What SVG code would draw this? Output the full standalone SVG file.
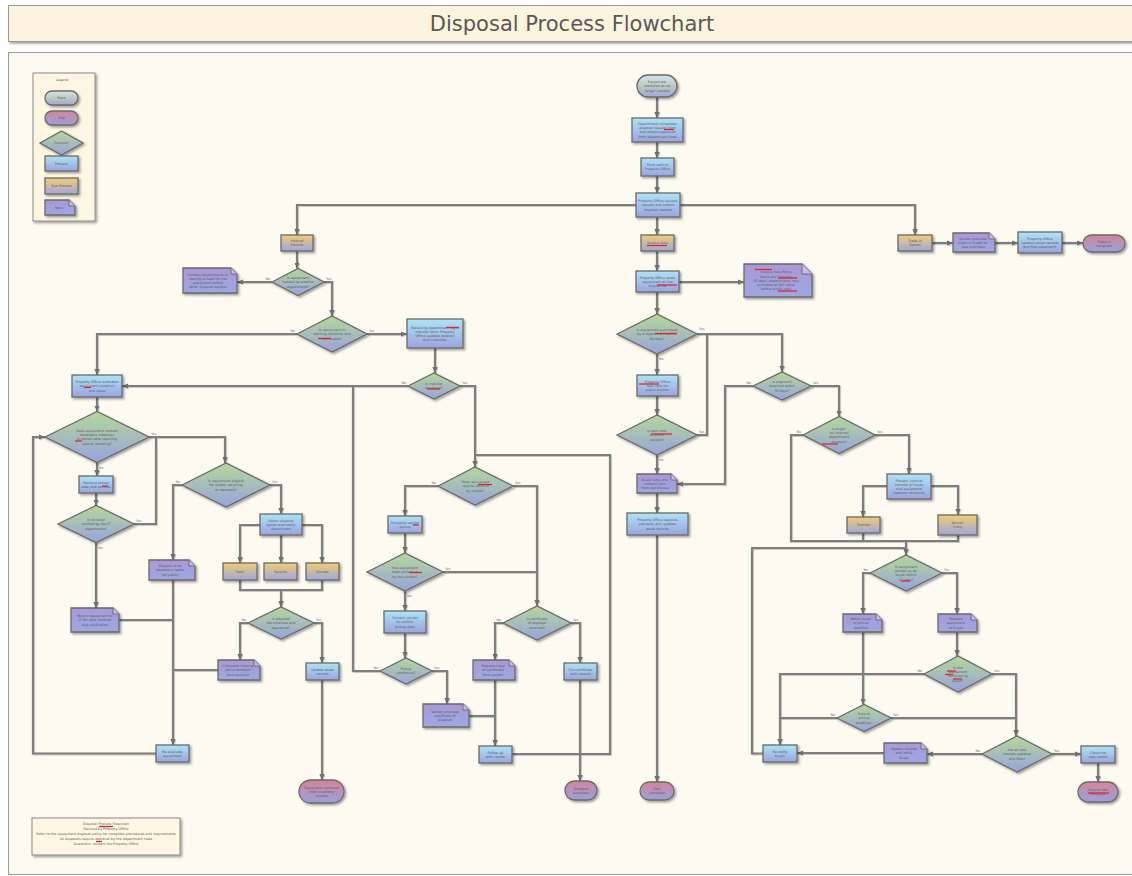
<svg xmlns="http://www.w3.org/2000/svg" width="1132" height="876" viewBox="0 0 1132 876">
  <defs>
    <linearGradient id="gStart" x1="0" y1="0" x2="0" y2="1">
      <stop offset="0" stop-color="#d6e5ef"/>
      <stop offset="0.5" stop-color="#bccabd"/>
      <stop offset="1" stop-color="#a0a7dc"/>
    </linearGradient>
    <linearGradient id="gEnd" x1="0" y1="0" x2="0" y2="1">
      <stop offset="0" stop-color="#d6849a"/>
      <stop offset="1" stop-color="#98a2dc"/>
    </linearGradient>
    <linearGradient id="gDec" x1="0" y1="0" x2="0" y2="1">
      <stop offset="0" stop-color="#b4d898"/>
      <stop offset="1" stop-color="#98a3de"/>
    </linearGradient>
    <linearGradient id="gProc" x1="0" y1="0" x2="0" y2="1">
      <stop offset="0" stop-color="#ade3f4"/>
      <stop offset="1" stop-color="#9aa4e0"/>
    </linearGradient>
    <linearGradient id="gSub" x1="0" y1="0" x2="0" y2="1">
      <stop offset="0" stop-color="#f2cd72"/>
      <stop offset="1" stop-color="#a0a6dc"/>
    </linearGradient>
    <linearGradient id="gNote" x1="0" y1="0" x2="0" y2="1">
      <stop offset="0" stop-color="#ab98d8"/>
      <stop offset="1" stop-color="#9ba8e2"/>
    </linearGradient>
    <filter id="sh" x="-20%" y="-20%" width="150%" height="160%">
      <feDropShadow dx="1.6" dy="1.6" stdDeviation="0.8" flood-color="#000" flood-opacity="0.38"/>
    </filter>
    <filter id="shLine" x="-5%" y="-5%" width="110%" height="110%">
      <feDropShadow dx="0.8" dy="0.8" stdDeviation="0.6" flood-color="#000" flood-opacity="0.25"/>
    </filter>
    <marker id="arr" viewBox="0 0 6 6" markerUnits="userSpaceOnUse" markerWidth="6" markerHeight="6" refX="6" refY="3" orient="auto">
      <path d="M0,0.4 L6,3 L0,5.6 z" fill="#6e6e6e"/>
    </marker>
    <style>
      .conn { fill: none; stroke: #7e7e7e; stroke-width: 2.2; }
      .arrow { marker-end: url(#arr); }
      .shape { stroke: #6a6a6a; stroke-width: 1.3; filter: url(#sh); }
      .start { fill: url(#gStart); }
      .end { fill: url(#gEnd); }
      .dec { fill: url(#gDec); }
      .proc { fill: url(#gProc); }
      .sub { fill: url(#gSub); }
      .note { fill: url(#gNote); }
      .fold { fill: #c7bdea; stroke: #6a6a6a; stroke-width: 0.9; }
      .t { font-family: "DejaVu Sans", "Liberation Sans", sans-serif; font-size: 3.4px; fill: #5c5c5c; text-anchor: middle; }
      .lbl { font-family: "DejaVu Sans", "Liberation Sans", sans-serif; font-size: 3.4px; fill: #777; }
      .lr { text-anchor: end; }
      .mark { stroke: #e3262e; stroke-width: 1.3; }
    </style>
  </defs>

  <!-- page frame -->
  <rect x="0" y="0" width="1132" height="876" fill="#ffffff"/>
  <g id="title">
    <rect x="8.5" y="5.5" width="1130" height="36" fill="#fdf4de" stroke="#9a9a9a" stroke-width="1" filter="url(#sh)"/>
    <text x="572" y="30.5" font-family="DejaVu Sans, Liberation Sans, sans-serif" font-size="21" fill="#585858" text-anchor="middle">Disposal Process Flowchart</text>
  </g>
  <rect id="canvas" x="8.5" y="52.5" width="1130" height="822" fill="#fdfaf1" stroke="#9a9a9a" stroke-width="1"/>

  <!-- legend -->
  <g id="legend">
    <rect x="33" y="73" width="62" height="148" fill="#fdf6e3" stroke="#8a8a8a" stroke-width="1" filter="url(#sh)"/>
    <text class="t" x="62" y="81">Legend</text>
    <rect class="shape start" x="45" y="91" width="33" height="14" rx="7"/>
    <text class="t" x="61.5" y="99.2">Start</text>
    <rect class="shape end" x="45" y="111" width="33" height="14" rx="7"/>
    <text class="t" x="61.5" y="119.2">End</text>
    <polygon class="shape dec" points="40,143 61.5,131 83,143 61.5,155"/>
    <text class="t" x="61.5" y="144.2">Decision</text>
    <rect class="shape proc" x="45" y="156" width="33" height="15"/>
    <text class="t" x="61.5" y="164.7">Process</text>
    <rect class="shape sub" x="45" y="178" width="33" height="16"/>
    <text class="t" x="61.5" y="187.2">Sub-Process</text>
    <path class="shape note" d="M45,200 H69 L75,206 V215 H45 Z"/>
    <path class="fold" d="M69,200 V206 H75"/>
    <text class="t" x="59" y="209">Note</text>
  </g>

  <!-- connectors -->
  <g id="connectors" filter="url(#shLine)">
    <path class="conn arrow" d="M657,97 V118"/>
    <path class="conn arrow" d="M657,142 V158"/>
    <path class="conn arrow" d="M657,176 V193"/>
    <path class="conn arrow" d="M636,205 H297 V235"/>
    <path class="conn arrow" d="M680,205 H915 V235"/>
    <path class="conn arrow" d="M657,217 V235"/>
    <path class="conn arrow" d="M932,243 H953"/>
    <path class="conn arrow" d="M995,243 H1018"/>
    <path class="conn arrow" d="M1062,243 H1083"/>

    <path class="conn arrow" d="M297,251 V268.5"/>
    <path class="conn arrow" d="M272,282 H237"/>
    <path class="conn arrow" d="M324,282 H332 V316"/>
    <path class="conn arrow" d="M297,334 H97 V375"/>
    <path class="conn arrow" d="M367,334 H407"/>
    <path class="conn arrow" d="M435,348 V373"/>
    <path class="conn arrow" d="M408,386 H122"/>
    <path class="conn arrow" d="M460,386 H475 V467"/>
    <path class="conn" d="M512,754 H610 V455 H475"/>
    <path class="conn arrow" d="M438,486 H405 V516"/>
    <path class="conn arrow" d="M405,533 V553"/>
    <path class="conn" d="M443,572 H537"/>
    <path class="conn arrow" d="M513,486 H537 V606"/>
    <path class="conn arrow" d="M405,591 V611"/>
    <path class="conn arrow" d="M405,633 V658"/>
    <path class="conn" d="M380,671 H353 V386"/>
    <path class="conn arrow" d="M432,671 H447 V704"/>
    <path class="conn" d="M469,716 H495"/>
    <path class="conn arrow" d="M503,623 H495 V660"/>
    <path class="conn arrow" d="M495,680 V746"/>
    <path class="conn arrow" d="M571,623 H580 V663"/>
    <path class="conn arrow" d="M580,680 V781"/>

    <path class="conn arrow" d="M97,397 V411.5"/>
    <path class="conn arrow" d="M149,437 H225 V463"/>
    <path class="conn arrow" d="M156,753.5 H33 V437 H45"/>
    <path class="conn arrow" d="M97,462.5 V476"/>
    <path class="conn arrow" d="M96,493 V505.5"/>
    <path class="conn" d="M134,524 H156 V437"/>
    <path class="conn arrow" d="M96,542.5 V608"/>
    <path class="conn" d="M119,620 H173"/>
    <path class="conn arrow" d="M182,485 H173 V560"/>
    <path class="conn arrow" d="M173,580 V745"/>
    <path class="conn arrow" d="M270,485 H281 V514"/>
    <path class="conn arrow" d="M281,535 V563"/>
    <path class="conn arrow" d="M260,525 H240 V563"/>
    <path class="conn arrow" d="M302,525 H322 V563"/>
    <path class="conn" d="M240,580 V590 H322 V580"/>
    <path class="conn arrow" d="M281,590 V607"/>
    <path class="conn arrow" d="M248,623 H240 V660"/>
    <path class="conn" d="M218,670 H173"/>
    <path class="conn arrow" d="M314,623 H322 V663"/>
    <path class="conn arrow" d="M322,680 V780"/>

    <path class="conn arrow" d="M657,251 V271"/>
    <path class="conn arrow" d="M679,282 H744"/>
    <path class="conn arrow" d="M657,292 V314"/>
    <path class="conn arrow" d="M697,334 H782 V372"/>
    <path class="conn" d="M697,435 H707 V334"/>
    <path class="conn arrow" d="M657,354 V375"/>
    <path class="conn arrow" d="M657,396 V415"/>
    <path class="conn arrow" d="M657,455 V474"/>
    <path class="conn arrow" d="M657,493 V513"/>
    <path class="conn arrow" d="M657,535 V782"/>
    <path class="conn arrow" d="M753,386 H725 V484 H677"/>
    <path class="conn arrow" d="M811,386 H839 V416.5"/>
    <path class="conn" d="M803,435 H791 V541 H958 V535"/>
    <path class="conn" d="M863,533 V541"/>
    <path class="conn arrow" d="M906,541 V555"/>
    <path class="conn" d="M763,753.5 H752 V548 H906"/>
    <path class="conn arrow" d="M875,435 H909 V474"/>
    <path class="conn arrow" d="M887,486 H863 V517"/>
    <path class="conn arrow" d="M931,486 H958 V515"/>
    <path class="conn arrow" d="M870,573 H863 V614"/>
    <path class="conn arrow" d="M942,573 H957 V614"/>
    <path class="conn arrow" d="M957,632 V656"/>
    <path class="conn arrow" d="M924,674 H780 V745"/>
    <path class="conn arrow" d="M992,674 H1016 V736"/>
    <path class="conn arrow" d="M863,632 V704.5"/>
    <path class="conn" d="M837,718 H780"/>
    <path class="conn" d="M891,718 H1016"/>
    <path class="conn arrow" d="M982,754 H927"/>
    <path class="conn arrow" d="M884,753 H797"/>
    <path class="conn arrow" d="M1052,754 H1081"/>
    <path class="conn arrow" d="M1098,763 V782"/>
  </g>

  <!-- connector labels -->
  <g id="labels">
    <text class="lbl lr" x="270" y="280">No</text><text class="lbl" x="326" y="280">Yes</text>
    <text class="lbl lr" x="295" y="332">No</text><text class="lbl" x="369" y="332">Yes</text>
    <text class="lbl lr" x="406" y="384">No</text><text class="lbl" x="462" y="384">Yes</text>
    <text class="lbl lr" x="436" y="484">No</text><text class="lbl" x="515" y="484">Yes</text>
    <text class="lbl" x="445" y="570">Yes</text><text class="lbl" x="407" y="597">No</text>
    <text class="lbl lr" x="378" y="669">No</text><text class="lbl" x="434" y="669">Yes</text>
    <text class="lbl lr" x="501" y="621">No</text><text class="lbl" x="573" y="621">Yes</text>
    <text class="lbl" x="151" y="435">Yes</text><text class="lbl" x="99" y="469">No</text>
    <text class="lbl" x="136" y="522">Yes</text><text class="lbl" x="98" y="549">No</text>
    <text class="lbl lr" x="180" y="483">No</text><text class="lbl" x="272" y="483">Yes</text>
    <text class="lbl lr" x="246" y="621">No</text><text class="lbl" x="316" y="621">Yes</text>
    <text class="lbl" x="699" y="330">Yes</text><text class="lbl" x="659" y="360">No</text>
    <text class="lbl" x="699" y="433">Yes</text><text class="lbl" x="659" y="461">No</text>
    <text class="lbl lr" x="751" y="384">No</text><text class="lbl" x="813" y="384">Yes</text>
    <text class="lbl lr" x="801" y="433">No</text><text class="lbl" x="877" y="433">Yes</text>
    <text class="lbl lr" x="868" y="571">No</text><text class="lbl" x="944" y="571">Yes</text>
    <text class="lbl lr" x="922" y="672">No</text><text class="lbl" x="994" y="672">Yes</text>
    <text class="lbl lr" x="835" y="716">No</text><text class="lbl" x="893" y="716">Yes</text>
    <text class="lbl lr" x="980" y="752">No</text><text class="lbl" x="1054" y="752">Yes</text>
  </g>

  <!-- main column -->
  <g id="n1"><rect class="shape start" x="637" y="75" width="40" height="22" rx="11"/>
    <text class="t" x="657" y="83.1">Equipment<tspan x="657" dy="4.2">identified as no</tspan><tspan x="657" dy="4.2">longer needed</tspan></text></g>
  <g id="n2"><rect class="shape proc" x="632" y="118" width="51" height="24"/>
    <text class="t" x="657.5" y="124.9">Department completes<tspan x="657.5" dy="4.2">disposal request form</tspan><tspan x="657.5" dy="4.2">and obtains approval</tspan><tspan x="657.5" dy="4.2">from department head</tspan></text>
    <line class="mark" x1="664" y1="129.5" x2="674" y2="129.5"/></g>
  <g id="n3"><rect class="shape proc" x="641" y="158" width="33" height="18"/>
    <text class="t" x="657.5" y="166.2">Form sent to<tspan x="657.5" dy="4.2">Property Office</tspan></text></g>
  <g id="n4"><rect class="shape proc" x="636" y="193" width="44" height="24"/>
    <text class="t" x="658" y="202.1">Property Office reviews<tspan x="658" dy="4.2">request and selects</tspan><tspan x="658" dy="4.2">disposal method</tspan></text></g>

  <!-- trade-in branch -->
  <g id="gT"><rect class="shape sub" x="898" y="235" width="34" height="16"/>
    <text class="t" x="915" y="242.2">Trade-In<tspan x="915" dy="4.2">Option</tspan></text></g>
  <g id="nT"><path class="shape note" d="M953,233 H989 L995,239 V252 H953 Z"/><path class="fold" d="M989,233 V239 H995"/>
    <text class="t" x="973" y="239.6">Vendor provides<tspan x="973" dy="4.2">trade-in credit on</tspan><tspan x="973" dy="4.2">new purchase</tspan></text></g>
  <g id="pT"><rect class="shape proc" x="1018" y="232" width="44" height="21"/>
    <text class="t" x="1040" y="239.6">Property Office<tspan x="1040" dy="4.2">updates asset records</tspan><tspan x="1040" dy="4.2">and files paperwork</tspan></text></g>
  <g id="eT"><rect class="shape end" x="1083" y="235" width="42" height="17" rx="8.5"/>
    <text class="t" x="1104" y="242.7">Trade-in<tspan x="1104" dy="4.2">complete</tspan></text></g>

  <!-- transfer branch -->
  <g id="g1"><rect class="shape sub" x="281" y="235" width="32" height="16"/>
    <text class="t" x="297" y="242.2">Internal<tspan x="297" dy="4.2">Transfer</tspan></text></g>
  <g id="D1"><polygon class="shape dec" points="272,282 298,268.5 324,282 298,295.5"/>
    <text class="t" x="298" y="279.1">Is equipment<tspan x="298" dy="4.2">needed by another</tspan><tspan x="298" dy="4.2">department?</tspan></text></g>
  <g id="nL1"><path class="shape note" d="M183,268 H231 L237,274 V293 H183 Z"/><path class="fold" d="M231,268 V274 H237"/>
    <text class="t" x="208" y="275.5">Contact departments to<tspan x="208" dy="4.2">identify a need for the</tspan><tspan x="208" dy="4.2">equipment before</tspan><tspan x="208" dy="4.2">other disposal options</tspan></text></g>
  <g id="D2"><polygon class="shape dec" points="297,334 332,316 367,334 332,352"/>
    <text class="t" x="332" y="331.1">Is equipment in<tspan x="332" dy="4.2">working condition and</tspan><tspan x="332" dy="4.2">still usable?</tspan></text>
    <line class="mark" x1="318" y1="338.5" x2="331" y2="338.5"/></g>
  <g id="pR"><rect class="shape proc" x="407" y="319" width="56" height="29"/>
    <text class="t" x="435" y="328.5">Receiving department signs<tspan x="435" dy="4.2">transfer form; Property</tspan><tspan x="435" dy="4.2">Office updates location</tspan><tspan x="435" dy="4.2">and custodian</tspan></text>
    <line class="mark" x1="446" y1="327.5" x2="459" y2="327.5"/></g>
  <g id="D3"><polygon class="shape dec" points="408,386 434,373 460,386 434,399"/>
    <text class="t" x="434" y="385.2">Is transfer<tspan x="434" dy="4.2">approved?</tspan></text>
    <line class="mark" x1="427" y1="389" x2="440" y2="389"/></g>
  <g id="D4"><polygon class="shape dec" points="438,486 475,467 513,486 475,505"/>
    <text class="t" x="475.5" y="483.1">Does equipment<tspan x="475.5" dy="4.2">require removal</tspan><tspan x="475.5" dy="4.2">by vendor?</tspan></text>
    <line class="mark" x1="478" y1="484.5" x2="492" y2="484.5"/></g>
  <g id="p4"><rect class="shape proc" x="388" y="516" width="34" height="17"/>
    <text class="t" x="405" y="523.7">Schedule vendor<tspan x="405" dy="4.2">pickup</tspan></text>
    <line class="mark" x1="413" y1="525" x2="419" y2="525"/></g>
  <g id="D5"><polygon class="shape dec" points="367,572 405,553 443,572 405,591"/>
    <text class="t" x="405" y="569.1">Has equipment<tspan x="405" dy="4.2">been picked up</tspan><tspan x="405" dy="4.2">by the vendor?</tspan></text>
    <line class="mark" x1="409" y1="572.5" x2="422" y2="572.5"/></g>
  <g id="p5"><rect class="shape proc" x="384" y="611" width="42" height="22"/>
    <text class="t" x="405" y="619.1">Contact vendor<tspan x="405" dy="4.2">to confirm</tspan><tspan x="405" dy="4.2">pickup date</tspan></text></g>
  <g id="D7"><polygon class="shape dec" points="380,671 406,658 432,671 406,684"/>
    <text class="t" x="406" y="670.2">Pickup<tspan x="406" dy="4.2">confirmed?</tspan></text></g>
  <g id="n7"><path class="shape note" d="M423,704 H463 L469,710 V727 H423 Z"/><path class="fold" d="M463,704 V710 H469"/>
    <text class="t" x="445" y="712.6">Vendor provides<tspan x="445" dy="4.2">certificate of</tspan><tspan x="445" dy="4.2">disposal</tspan></text></g>
  <g id="D6"><polygon class="shape dec" points="503,623 537,606 571,623 537,640"/>
    <text class="t" x="537" y="620.1">Is certificate<tspan x="537" dy="4.2">of disposal</tspan><tspan x="537" dy="4.2">received?</tspan></text></g>
  <g id="n6"><path class="shape note" d="M473,660 H509 L515,666 V680 H473 Z"/><path class="fold" d="M509,660 V666 H515"/>
    <text class="t" x="493" y="667.1">Request copy<tspan x="493" dy="4.2">of certificate</tspan><tspan x="493" dy="4.2">from vendor</tspan></text></g>
  <g id="pB2"><rect class="shape proc" x="479" y="746" width="33" height="17"/>
    <text class="t" x="495.5" y="753.7">Follow up<tspan x="495.5" dy="4.2">with vendor</tspan></text></g>
  <g id="p6"><rect class="shape proc" x="564" y="663" width="33" height="17"/>
    <text class="t" x="580.5" y="670.7">File certificate<tspan x="580.5" dy="4.2">with records</tspan></text></g>
  <g id="e6"><rect class="shape end" x="565" y="781" width="32" height="19" rx="9.5"/>
    <text class="t" x="581" y="789.7">Disposal<tspan x="581" dy="4.2">complete</tspan></text></g>

  <!-- evaluation branch -->
  <g id="PL"><rect class="shape proc" x="72" y="375" width="50" height="22"/>
    <text class="t" x="97" y="383.1">Property Office evaluates<tspan x="97" dy="4.2">equipment condition</tspan><tspan x="97" dy="4.2">and value</tspan></text>
    <line class="mark" x1="84" y1="387.5" x2="91" y2="387.5"/></g>
  <g id="DL1"><polygon class="shape dec" points="45,437 97,411.5 149,437 97,462.5"/>
    <text class="t" x="97" y="432">Does equipment contain<tspan x="97" dy="4.2">hazardous materials</tspan><tspan x="97" dy="4.2">or stored data requiring</tspan><tspan x="97" dy="4.2">special handling?</tspan></text>
    <line class="mark" x1="75" y1="441" x2="82" y2="441"/></g>
  <g id="pL2"><rect class="shape proc" x="79" y="476" width="34" height="17"/>
    <text class="t" x="96" y="483.7">Remove stored<tspan x="96" dy="4.2">data and hazards</tspan></text>
    <line class="mark" x1="102" y1="486" x2="108" y2="486"/></g>
  <g id="DL3"><polygon class="shape dec" points="58,524 96,505.5 134,524 96,542.5"/>
    <text class="t" x="96" y="521.1">Is removal<tspan x="96" dy="4.2">verified by the IT</tspan><tspan x="96" dy="4.2">department?</tspan></text></g>
  <g id="nL3"><path class="shape note" d="M71,608 H113 L119,614 V632 H71 Z"/><path class="fold" d="M113,608 V614 H119"/>
    <text class="t" x="95" y="617.1">Return equipment to<tspan x="95" dy="4.2">IT for data removal</tspan><tspan x="95" dy="4.2">and verification</tspan></text></g>
  <g id="DL2"><polygon class="shape dec" points="182,485 226,463 270,485 226,507"/>
    <text class="t" x="226" y="482.1">Is equipment eligible<tspan x="226" dy="4.2">for resale, recycling</tspan><tspan x="226" dy="4.2">or donation?</tspan></text></g>
  <g id="nL2"><path class="shape note" d="M149,560 H189 L195,566 V580 H149 Z"/><path class="fold" d="M189,560 V566 H195"/>
    <text class="t" x="170" y="567.1">Dispose of as<tspan x="170" dy="4.2">hazardous waste</tspan><tspan x="170" dy="4.2">per policy</tspan></text></g>
  <g id="pL4"><rect class="shape proc" x="260" y="514" width="42" height="21"/>
    <text class="t" x="281" y="521.6">Select disposal<tspan x="281" dy="4.2">option and notify</tspan><tspan x="281" dy="4.2">department</tspan></text></g>
  <g id="gA"><rect class="shape sub" x="223" y="563" width="34" height="17"/><text class="t" x="240" y="572.8">Trash</text></g>
  <g id="gB"><rect class="shape sub" x="264" y="563" width="33" height="17"/><text class="t" x="280.5" y="572.8">Recycle</text></g>
  <g id="gC"><rect class="shape sub" x="306" y="563" width="33" height="17"/><text class="t" x="322.5" y="572.8">Donate</text></g>
  <g id="DL4"><polygon class="shape dec" points="248,623 281,607 314,623 281,639"/>
    <text class="t" x="281" y="620.1">Is disposal<tspan x="281" dy="4.2">documented and</tspan><tspan x="281" dy="4.2">approved?</tspan></text></g>
  <g id="nL4"><path class="shape note" d="M218,660 H254 L260,666 V680 H218 Z"/><path class="fold" d="M254,660 V666 H260"/>
    <text class="t" x="238" y="667.1">Complete missing<tspan x="238" dy="4.2">documentation</tspan><tspan x="238" dy="4.2">and resubmit</tspan></text></g>
  <g id="pL5"><rect class="shape proc" x="306" y="663" width="33" height="17"/>
    <text class="t" x="322.5" y="670.7">Update asset<tspan x="322.5" dy="4.2">records</tspan></text></g>
  <g id="eL"><rect class="shape end" x="299" y="780" width="45" height="23" rx="11.5"/>
    <text class="t" x="321.5" y="788.6">Equipment removed<tspan x="321.5" dy="4.2">from inventory</tspan><tspan x="321.5" dy="4.2">records</tspan></text></g>
  <g id="PB"><rect class="shape proc" x="156" y="745" width="33" height="17"/>
    <text class="t" x="172.5" y="752.7">Re-evaluate<tspan x="172.5" dy="4.2">equipment</tspan></text></g>

  <!-- surplus branch -->
  <g id="gC1"><rect class="shape sub" x="641" y="235" width="33" height="16"/>
    <text class="t" x="657.5" y="244.3">Surplus Sale</text>
    <line class="mark" x1="647" y1="245.5" x2="667" y2="245.5"/></g>
  <g id="pC1"><rect class="shape proc" x="636" y="271" width="43" height="21"/>
    <text class="t" x="657.5" y="278.6">Property Office posts<tspan x="657.5" dy="4.2">equipment on the</tspan><tspan x="657.5" dy="4.2">surplus list</tspan></text>
    <line class="mark" x1="657" y1="285" x2="677" y2="285"/></g>
  <g id="nBig"><path class="shape note" d="M744,264 H802 L812,274 V297 H744 Z"/><path class="fold" d="M802,264 V274 H812"/>
    <text class="t" x="776" y="273.4">Surplus Sale Policy<tspan x="776" dy="4.2">Items are listed for</tspan><tspan x="776" dy="4.2">30 days; departments may</tspan><tspan x="776" dy="4.2">purchase at fair value</tspan><tspan x="776" dy="4.2">before public sale</tspan></text>
    <line class="mark" x1="755" y1="269.5" x2="772" y2="269.5"/>
    <line class="mark" x1="778" y1="278" x2="797" y2="278"/>
    <line class="mark" x1="778" y1="291" x2="797" y2="291"/></g>
  <g id="DC1"><polygon class="shape dec" points="617,334 657,314 697,334 657,354"/>
    <text class="t" x="657" y="331.1">Is equipment purchased<tspan x="657" dy="4.2">by a department within</tspan><tspan x="657" dy="4.2">30 days?</tspan></text>
    <line class="mark" x1="655" y1="333.5" x2="677" y2="333.5"/></g>
  <g id="pC2"><rect class="shape proc" x="637" y="375" width="41" height="21"/>
    <text class="t" x="657.5" y="382.6">Property Office<tspan x="657.5" dy="4.2">lists item for</tspan><tspan x="657.5" dy="4.2">public auction</tspan></text>
    <line class="mark" x1="639" y1="384" x2="659" y2="384"/></g>
  <g id="DC2"><polygon class="shape dec" points="617,435 657,415 697,435 657,455"/>
    <text class="t" x="657" y="432.1">Is item sold<tspan x="657" dy="4.2">at public</tspan><tspan x="657" dy="4.2">auction?</tspan></text>
    <line class="mark" x1="651" y1="434" x2="672" y2="434"/></g>
  <g id="nC"><path class="shape note" d="M637,474 H671 L677,480 V493 H637 Z"/><path class="fold" d="M671,474 V480 H677"/>
    <text class="t" x="655" y="480.6">Buyer pays and<tspan x="655" dy="4.2">collects item</tspan><tspan x="655" dy="4.2">from warehouse</tspan></text></g>
  <g id="pC3"><rect class="shape proc" x="627" y="513" width="61" height="22"/>
    <text class="t" x="657.5" y="521.1">Property Office deposits<tspan x="657.5" dy="4.2">proceeds and updates</tspan><tspan x="657.5" dy="4.2">asset records</tspan></text></g>
  <g id="eC"><rect class="shape end" x="640" y="782" width="34" height="18" rx="9"/>
    <text class="t" x="657" y="790.2">Sale<tspan x="657" dy="4.2">complete</tspan></text></g>
  <g id="DR1"><polygon class="shape dec" points="753,386 782,372 811,386 782,400"/>
    <text class="t" x="782" y="383.1">Is payment<tspan x="782" dy="4.2">received within</tspan><tspan x="782" dy="4.2">30 days?</tspan></text></g>
  <g id="DR2"><polygon class="shape dec" points="803,435 839,416.5 875,435 839,453.5"/>
    <text class="t" x="839" y="430">Is buyer<tspan x="839" dy="4.2">an internal</tspan><tspan x="839" dy="4.2">department</tspan><tspan x="839" dy="4.2">account?</tspan></text>
    <line class="mark" x1="822" y1="444" x2="838" y2="444"/></g>
  <g id="pR2"><rect class="shape proc" x="887" y="474" width="44" height="25"/>
    <text class="t" x="909" y="481.5">Process internal<tspan x="909" dy="4.2">transfer of funds</tspan><tspan x="909" dy="4.2">and equipment</tspan><tspan x="909" dy="4.2">between accounts</tspan></text></g>
  <g id="gR1"><rect class="shape sub" x="847" y="517" width="33" height="16"/><text class="t" x="863.5" y="526.3">Transfer</text></g>
  <g id="gR2"><rect class="shape sub" x="938" y="515" width="39" height="20"/>
    <text class="t" x="957.5" y="524.2">Journal<tspan x="957.5" dy="4.2">Entry</tspan></text></g>
  <g id="DS1"><polygon class="shape dec" points="870,573 906,555 942,573 906,591"/>
    <text class="t" x="906" y="568">Is equipment<tspan x="906" dy="4.2">picked up by</tspan><tspan x="906" dy="4.2">buyer within</tspan><tspan x="906" dy="4.2">10 days?</tspan></text>
    <line class="mark" x1="901" y1="581" x2="910" y2="581"/></g>
  <g id="nS1"><path class="shape note" d="M843,614 H876 L882,620 V632 H843 Z"/><path class="fold" d="M876,614 V620 H882"/>
    <text class="t" x="861" y="620.1">Notify buyer<tspan x="861" dy="4.2">of pickup</tspan><tspan x="861" dy="4.2">deadline</tspan></text></g>
  <g id="nS2"><path class="shape note" d="M938,614 H971 L977,620 V632 H938 Z"/><path class="fold" d="M971,614 V620 H977"/>
    <text class="t" x="956" y="620.1">Release<tspan x="956" dy="4.2">equipment</tspan><tspan x="956" dy="4.2">to buyer</tspan></text></g>
  <g id="DS2"><polygon class="shape dec" points="924,674 958,656 992,674 958,692"/>
    <text class="t" x="958" y="669">Is the<tspan x="958" dy="4.2">equipment</tspan><tspan x="958" dy="4.2">removed by</tspan><tspan x="958" dy="4.2">buyer?</tspan></text>
    <line class="mark" x1="947" y1="671" x2="956" y2="671"/>
    <line class="mark" x1="945" y1="674.5" x2="953" y2="674.5"/>
    <line class="mark" x1="953" y1="679" x2="962" y2="679"/></g>
  <g id="DS3"><polygon class="shape dec" points="837,718 864,704.5 891,718 864,731.5"/>
    <text class="t" x="864" y="715.1">Extend<tspan x="864" dy="4.2">pickup</tspan><tspan x="864" dy="4.2">deadline?</tspan></text></g>
  <g id="DS4"><polygon class="shape dec" points="982,754 1017,736 1052,754 1017,772"/>
    <text class="t" x="1017" y="751.1">Are all sale<tspan x="1017" dy="4.2">records updated</tspan><tspan x="1017" dy="4.2">and filed?</tspan></text></g>
  <g id="nS4"><path class="shape note" d="M884,743 H921 L927,749 V763 H884 Z"/><path class="fold" d="M921,743 V749 H927"/>
    <text class="t" x="904" y="750.1">Update records<tspan x="904" dy="4.2">and notify</tspan><tspan x="904" dy="4.2">buyer</tspan></text></g>
  <g id="pS1"><rect class="shape proc" x="763" y="745" width="34" height="17"/>
    <text class="t" x="780" y="752.7">Re-notify<tspan x="780" dy="4.2">buyer</tspan></text></g>
  <g id="pS4"><rect class="shape proc" x="1081" y="746" width="34" height="17"/>
    <text class="t" x="1098" y="753.7">Close the<tspan x="1098" dy="4.2">sale record</tspan></text></g>
  <g id="eS"><rect class="shape end" x="1078" y="782" width="40" height="20" rx="10"/>
    <text class="t" x="1098" y="791.2">Surplus sale<tspan x="1098" dy="4.2">complete</tspan></text>
    <line class="mark" x1="1088" y1="793" x2="1109" y2="793"/></g>

  <!-- revision note -->
  <g id="revision">
    <rect x="32" y="818" width="148" height="37" fill="#fdf6e3" stroke="#8a8a8a" stroke-width="1" filter="url(#sh)"/>
    <text class="t" x="106" y="825">Disposal Process Flowchart</text>
    <text class="t" x="106" y="830">Revised by Property Office</text>
    <text class="t" x="106" y="835">Refer to the equipment disposal policy for complete procedures and requirements</text>
    <text class="t" x="106" y="840">All disposals require approval by the department head</text>
    <text class="t" x="106" y="845">Questions: contact the Property Office</text>
    <line class="mark" x1="99" y1="826.5" x2="113" y2="826.5"/>
    <line class="mark" x1="96" y1="841.5" x2="102" y2="841.5"/>
  </g>
</svg>
